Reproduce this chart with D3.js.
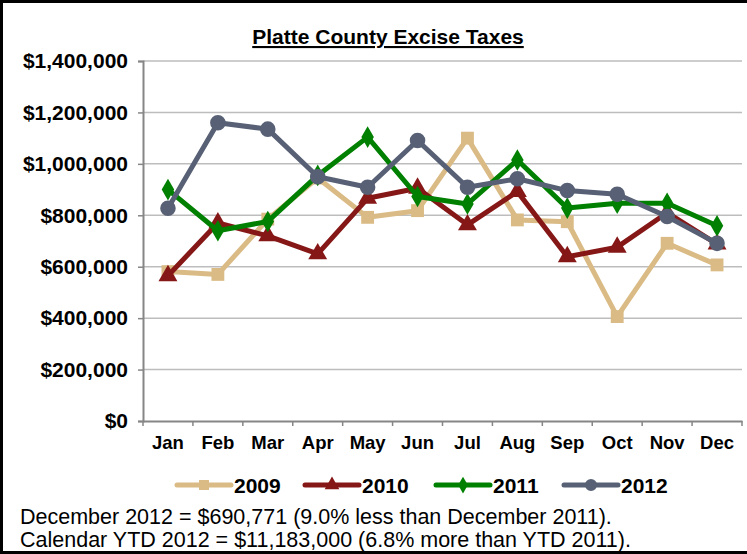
<!DOCTYPE html>
<html><head><meta charset="utf-8">
<script src="https://cdn.jsdelivr.net/npm/d3@7"></script>
<style>html,body{margin:0;padding:0;background:#fff;}svg{display:block;font-family:"Liberation Sans",Arial,sans-serif;}</style>
</head><body>
<svg id="chart" width="747" height="554"></svg>
<script>
const months = ["Jan","Feb","Mar","Apr","May","Jun","Jul","Aug","Sep","Oct","Nov","Dec"];
const years = ["2009","2010","2011","2012"];
const v2009 = [581000,570000,785000,945000,792000,818000,1100000,782000,775000,406000,691000,607000];
const v2010 = [565000,770000,720000,650000,866000,905000,763000,892000,639000,676000,810000,688000];
const v2011 = [900000,740000,776000,955000,1104000,873000,844000,1015000,828000,847000,847000,759000];
const v2012 = [827000,1160000,1135000,950000,909000,1091000,909000,942000,896000,882000,795000,690771];
const yTicks = [0,200000,400000,600000,800000,1000000,1200000,1400000];
const title = "Platte County Excise Taxes";
const notes = ["December 2012 = $690,771 (9.0% less than December 2011).",
               "Calendar YTD 2012 = $11,183,000 (6.8% more than YTD 2011)."];

const seriesValues = [v2009, v2010, v2011, v2012];
const colors = ["#DABB85","#861717","#008000","#576074"];
const shapes = [d3.symbolSquare, d3.symbolTriangle, d3.symbolDiamond, d3.symbolCircle];
const sizes = [165, 155, 135, 190];

const svg = d3.select("#chart");
const L = 143, R = 742, T = 61, B = 421;

// border
svg.append("path").attr("d", "M760,1.5H1.5V552.5H760").attr("fill","none").attr("stroke","#000").attr("stroke-width",3);

const x = d3.scaleBand().domain(months).range([L, R]);
const y = d3.scaleLinear().domain([0, 1400000]).range([B, T]);

// gridlines
svg.append("g").selectAll("line").data(yTicks.slice(1)).join("line")
  .attr("x1", L).attr("x2", R).attr("y1", d => y(d)).attr("y2", d => y(d))
  .attr("stroke", "#BDBDBD").attr("stroke-width", 1.5);

// y axis
const fmt = d => "$" + d3.format(",")(d);
const ya = svg.append("g").attr("transform", `translate(${L},0)`)
  .call(d3.axisLeft(y).tickValues(yTicks).tickFormat(fmt).tickSize(5).tickPadding(10));
ya.select(".domain").attr("stroke", "#868686").attr("stroke-width", 2);
ya.selectAll(".tick line").attr("stroke", "#868686").attr("stroke-width", 1.5);
ya.selectAll("text").attr("font-size", 21).attr("font-weight", "bold").attr("fill", "#000")
  .attr("font-family", '"Liberation Sans",Arial,sans-serif');

// x axis
const xa = svg.append("g").attr("transform", `translate(0,${B})`)
  .call(d3.axisBottom(x).tickSize(0).tickPadding(15));
xa.select(".domain").attr("stroke", "#868686").attr("stroke-width", 2);
xa.selectAll("text").attr("font-size", 18.5).attr("font-weight", "bold").attr("fill", "#000")
  .attr("font-family", '"Liberation Sans",Arial,sans-serif');
// boundary ticks
const bounds = months.map(m => x(m)).concat([R]);
svg.append("g").selectAll("line").data(bounds).join("line")
  .attr("x1", d => d).attr("x2", d => d).attr("y1", B).attr("y2", B + 5)
  .attr("stroke", "#868686").attr("stroke-width", 1.5);

// series
const line = d3.line().x((d, i) => x(months[i]) + x.bandwidth() / 2).y(d => y(d));
seriesValues.forEach((vals, si) => {
  const g = svg.append("g");
  g.append("path").attr("d", line(vals)).attr("fill", "none")
    .attr("stroke", colors[si]).attr("stroke-width", 5).attr("stroke-linejoin", "round");
  g.selectAll("path.m").data(vals).join("path").attr("class", "m")
    .attr("transform", (d, i) => `translate(${x(months[i]) + x.bandwidth() / 2},${y(d)})`)
    .attr("d", d3.symbol().type(shapes[si]).size(sizes[si]))
    .attr("fill", colors[si]);
});

// title
svg.append("text").attr("x", 388).attr("y", 44).attr("text-anchor", "middle")
  .attr("font-size", 21).attr("font-weight", "bold").attr("text-decoration", "underline")
  .text(title);

// legend
const legX = [177, 305, 436, 564];
const legY = 485;
years.forEach((yr, si) => {
  const g = svg.append("g");
  g.append("line").attr("x1", legX[si]).attr("x2", legX[si] + 54).attr("y1", legY).attr("y2", legY)
    .attr("stroke", colors[si]).attr("stroke-width", 5).attr("stroke-linecap", "round");
  g.append("path").attr("transform", `translate(${legX[si] + 27},${legY})`)
    .attr("d", d3.symbol().type(shapes[si]).size(sizes[si] * 0.6)).attr("fill", colors[si]);
  g.append("text").attr("x", legX[si] + 57).attr("y", legY + 8)
    .attr("font-size", 21).attr("font-weight", "bold").text(yr);
});

// notes
svg.append("g").selectAll("text").data(notes).join("text")
  .attr("x", 20).attr("y", (d, i) => 524 + i * 23)
  .attr("font-size", 21.5).text(d => d);
</script>
</body></html>
